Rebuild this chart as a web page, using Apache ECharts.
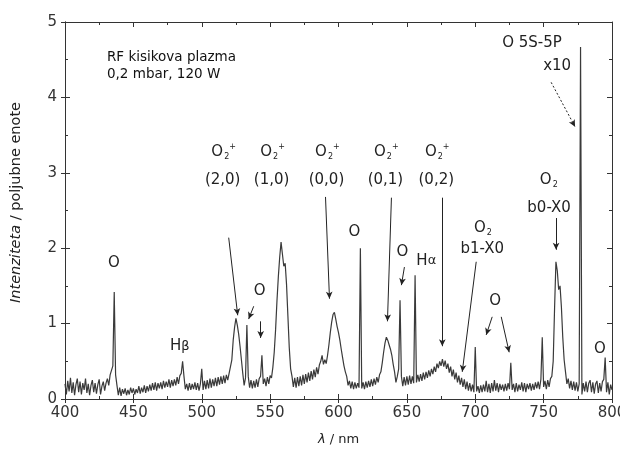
<!DOCTYPE html>
<html>
<head>
<meta charset="utf-8">
<script src="https://cdn.jsdelivr.net/npm/echarts@6/dist/echarts.min.js"></script>
<style>html,body{margin:0;padding:0;background:#fff}#c{width:620px;height:455px}</style>
</head>
<body>
<div id="c"></div>
<script>
// ---- data ----
const wavelength = [
400,401,402,403,404,405,406,407,408,409,410,411,412,413,414,415,416,417,418,419,
420,421,422,423,424,425,426,427,428,429,430,431,432,433,434,435,436,437,438,439,
440,441,442,443,444,445,446,447,448,449,450,451,452,453,454,455,456,457,458,459,
460,461,462,463,464,465,466,467,468,469,470,471,472,473,474,475,476,477,478,479,
480,481,482,483,484,485,486,487,488,489,490,491,492,493,494,495,496,497,498,499,
500,501,502,503,504,505,506,507,508,509,510,511,512,513,514,515,516,517,518,519,
520,521,522,523,524,525,526,527,528,529,530,531,532,533,534,535,536,537,538,539,
540,541,542,543,544,545,546,547,548,549,550,551,552,553,554,555,556,557,558,559,
560,561,562,563,564,565,566,567,568,569,570,571,572,573,574,575,576,577,578,579,
580,581,582,583,584,585,586,587,588,589,590,591,592,593,594,595,596,597,598,599,
600,601,602,603,604,605,606,607,608,609,610,611,612,613,614,615,616,617,618,619,
620,621,622,623,624,625,626,627,628,629,630,631,632,633,634,635,636,637,638,639,
640,641,642,643,644,645,646,647,648,649,650,651,652,653,654,655,656,657,658,659,
660,661,662,663,664,665,666,667,668,669,670,671,672,673,674,675,676,677,678,679,
680,681,682,683,684,685,686,687,688,689,690,691,692,693,694,695,696,697,698,699,
700,701,702,703,704,705,706,707,708,709,710,711,712,713,714,715,716,717,718,719,
720,721,722,723,724,725,726,727,728,729,730,731,732,733,734,735,736,737,738,739,
740,741,742,743,744,745,746,747,748,749,750,751,752,753,754,755,756,757,758,759,
760,761,762,763,764,765,766,767,768,769,770,771,772,773,774,775,776,777,778,779,
780,781,782,783,784,785,786,787,788,789,790,791,792,793,794,795,796,797,798,799,
800];
const intensity = [
0.20,0.06,0.24,0.10,0.28,0.08,0.22,0.05,0.19,0.27,
0.09,0.23,0.06,0.21,0.12,0.27,0.08,0.20,0.05,0.18,
0.25,0.09,0.21,0.07,0.19,0.26,0.06,0.17,0.23,0.11,
0.21,0.27,0.18,0.32,0.30,0.44,1.42,0.32,0.18,0.05,
0.15,0.04,0.13,0.07,0.14,0.05,0.12,0.06,0.15,0.08,
0.14,0.06,0.13,0.08,0.17,0.07,0.15,0.09,0.18,0.08,
0.17,0.10,0.19,0.11,0.21,0.12,0.22,0.11,0.21,0.14,
0.22,0.13,0.24,0.15,0.23,0.16,0.26,0.15,0.25,0.17,
0.26,0.18,0.29,0.20,0.31,0.34,0.50,0.30,0.13,0.20,
0.11,0.21,0.12,0.20,0.13,0.22,0.12,0.21,0.11,0.20,
0.40,0.12,0.24,0.13,0.25,0.14,0.27,0.15,0.26,0.17,
0.28,0.17,0.29,0.19,0.30,0.20,0.31,0.21,0.32,0.25,
0.34,0.33,0.52,0.78,0.95,1.07,0.98,0.86,0.70,0.52,
0.34,0.18,0.28,0.98,0.30,0.15,0.25,0.14,0.24,0.15,
0.26,0.16,0.27,0.30,0.58,0.20,0.27,0.17,0.29,0.20,
0.31,0.28,0.42,0.62,0.92,1.30,1.62,1.88,2.08,1.92,
1.76,1.80,1.52,1.10,0.68,0.40,0.30,0.16,0.28,0.15,
0.29,0.17,0.30,0.18,0.32,0.20,0.33,0.22,0.35,0.24,
0.37,0.26,0.39,0.29,0.42,0.33,0.45,0.50,0.58,0.46,
0.52,0.47,0.58,0.72,0.88,1.02,1.12,1.15,1.06,0.96,
0.88,0.78,0.66,0.55,0.44,0.36,0.30,0.18,0.24,0.14,
0.23,0.13,0.22,0.14,0.21,0.15,2.00,0.14,0.22,0.13,
0.23,0.15,0.24,0.16,0.26,0.17,0.27,0.19,0.29,0.22,
0.32,0.36,0.48,0.62,0.74,0.82,0.78,0.72,0.66,0.58,
0.46,0.36,0.22,0.30,0.40,1.31,0.30,0.17,0.29,0.18,
0.30,0.19,0.31,0.20,0.30,0.21,1.64,0.22,0.32,0.23,
0.33,0.24,0.35,0.26,0.36,0.28,0.38,0.30,0.40,0.33,
0.43,0.36,0.47,0.41,0.50,0.44,0.53,0.43,0.51,0.40,
0.47,0.35,0.43,0.30,0.39,0.26,0.35,0.22,0.31,0.19,
0.28,0.16,0.26,0.13,0.23,0.11,0.21,0.10,0.19,0.09,
0.69,0.10,0.17,0.08,0.18,0.09,0.19,0.10,0.24,0.09,
0.20,0.08,0.21,0.10,0.25,0.11,0.21,0.09,0.20,0.12,
0.19,0.10,0.20,0.11,0.21,0.13,0.48,0.12,0.20,0.09,
0.21,0.10,0.19,0.12,0.22,0.10,0.21,0.09,0.20,0.13,
0.21,0.11,0.20,0.12,0.22,0.14,0.23,0.13,0.26,0.82,
0.16,0.24,0.13,0.25,0.16,0.27,0.30,0.50,1.20,1.82,
1.70,1.45,1.50,1.22,0.82,0.52,0.36,0.20,0.27,0.14,
0.24,0.12,0.23,0.11,0.22,0.10,0.20,4.67,0.06,0.21,
0.10,0.23,0.09,0.21,0.25,0.09,0.22,0.07,0.20,0.24,
0.08,0.21,0.10,0.23,0.26,0.55,0.09,0.22,0.06,0.19,
0.12];

const xTicks = {min: 400, max: 800, interval: 50};
const yTicks = {min: 0, max: 5, interval: 1};

// annotation texts: [text(rich), wavelength, intensity]
const annotationTexts = [
  ['O', 435.8, 1.80],
  ['H{g|β}', 483.9, 0.70],
  ['{o|O}{sub|2}{sup|+}', 516.0, 3.28], ['(2,0)', 515.3, 2.90],
  ['{o|O}{sub|2}{sup|+}', 551.8, 3.28], ['(1,0)', 551.1, 2.90],
  ['{o|O}{sub|2}{sup|+}', 591.9, 3.28], ['(0,0)', 591.2, 2.90],
  ['{o|O}{sub|2}{sup|+}', 635.0, 3.28], ['(0,1)', 634.3, 2.90],
  ['{o|O}{sub|2}{sup|+}', 672.2, 3.28], ['(0,2)', 671.5, 2.90],
  ['O', 611.7, 2.21],
  ['O', 542.3, 1.43],
  ['O', 646.7, 1.95],
  ['H{g|α}', 664.2, 1.83],
  ['{o|O}{sub|2}', 705.6, 2.27], ['b1-X0', 705.1, 1.99],
  ['O', 714.6, 1.30],
  ['{o|O}{sub|2}', 753.8, 2.90], ['b0-X0', 754.0, 2.53],
  ['O 5S-5P', 741.5, 4.72], ['x10', 759.9, 4.42],
  ['O', 791.2, 0.66]
];
const conditionsText = ['RF kisikova plazma', '0,2 mbar, 120 W'];
const conditionsAt = [430.7, 4.42];

// arrows: [fromλ, fromI, toλ, toI]
const arrows = [
  [519.7, 2.14, 526.3, 1.11],
  [538.0, 1.23, 534.3, 1.06],
  [543.1, 1.03, 543.1, 0.81],
  [590.5, 2.68, 593.4, 1.33],
  [638.7, 2.67, 635.8, 1.03],
  [648.2, 1.75, 646.0, 1.51],
  [675.9, 2.67, 675.9, 0.70],
  [700.7, 1.82, 690.5, 0.36],
  [712.4, 1.09, 708.0, 0.85],
  [719.0, 1.09, 724.8, 0.62],
  [759.1, 2.40, 759.1, 1.98]
];
const dottedArrows = [
  [755.5, 4.20, 773.0, 3.61]
];

// ---- chart ----
const FONT = '"DejaVu Sans", Verdana, sans-serif';
const TXT = '#222';
const chart = echarts.init(document.getElementById('c'), null, {renderer: 'canvas'});
const seriesData = wavelength.map((w, i) => [w, intensity[i]]);
const richStyles = {
  o: {fontSize: 15, fontFamily: FONT, color: TXT},
  sub: {fontSize: 8, fontFamily: FONT, color: TXT, padding: [10, 0, 0, 1]},
  sup: {fontSize: 8, fontFamily: FONT, color: TXT, padding: [0, 0, 9, 0]},
  g: {fontSize: 13, fontFamily: FONT, color: TXT}
};
const markPoints = annotationTexts.map(([t, x, y]) => ({
  coord: [x, y],
  symbol: 'circle', symbolSize: 0,
  label: {show: true, formatter: t, position: 'inside', align: 'center', verticalAlign: 'middle',
          fontSize: 15, fontFamily: FONT, color: TXT, rich: richStyles}
}));
markPoints.push({
  coord: conditionsAt, symbol: 'circle', symbolSize: 0,
  label: {show: true, formatter: conditionsText.join('\n'), position: 'inside', align: 'left',
          verticalAlign: 'middle', lineHeight: 17, fontSize: 13.5, fontFamily: FONT, color: '#111'}
});
const markLines = arrows.map(([x1, y1, x2, y2]) => [{coord: [x1, y1]}, {coord: [x2, y2]}])
  .concat(dottedArrows.map(([x1, y1, x2, y2]) => [
    {coord: [x1, y1], lineStyle: {type: [2, 2]}}, {coord: [x2, y2]}]));

const axisLine = {show: true, onZero: false, lineStyle: {color: '#333', width: 1}};
const axisBase = {
  type: 'value', splitLine: {show: false}, axisLine: axisLine,
  minorTick: {show: true, splitNumber: 2, length: 3, lineStyle: {color: '#333'}},
  axisTick: {show: true, inside: true, length: 5, lineStyle: {color: '#333'}}
};
const labelStyle = {fontSize: 15, fontFamily: FONT, color: '#333'};

chart.setOption({
  animation: false,
  grid: {left: 65, right: 8, top: 22, bottom: 56, containLabel: false, outerBoundsMode: 'none'},
  xAxis: [
    Object.assign({}, axisBase, xTicks, {
      position: 'bottom',
      axisLabel: Object.assign({margin: 7}, labelStyle),
      name: '{i|λ} / nm', nameLocation: 'middle', nameGap: 34,
      nameTextStyle: {fontSize: 13, fontFamily: FONT, color: TXT,
        rich: {i: {fontStyle: 'italic', fontSize: 13, fontFamily: FONT, color: TXT}}}
    }),
    Object.assign({}, axisBase, xTicks, {position: 'top', axisLabel: {show: false}}),
    Object.assign({}, axisBase, xTicks, {position: 'bottom', axisLabel: {show: false},
      axisTick: {show: true, inside: false, length: 4, lineStyle: {color: '#333'}},
      minorTick: {show: false}})
  ],
  yAxis: [
    Object.assign({}, axisBase, yTicks, {
      position: 'left',
      axisLabel: Object.assign({margin: 8}, labelStyle),
      name: '{i|Intenziteta} / poljubne enote', nameLocation: 'middle', nameGap: 41,
      nameTextStyle: {fontSize: 14.5, fontFamily: FONT, color: TXT, padding: [0, 0, 0, 16],
        rich: {i: {fontStyle: 'italic', fontSize: 14.5, fontFamily: FONT, color: TXT}}}
    }),
    Object.assign({}, axisBase, yTicks, {position: 'right', axisLabel: {show: false}}),
    Object.assign({}, axisBase, yTicks, {position: 'left', axisLabel: {show: false},
      axisTick: {show: true, inside: false, length: 4, lineStyle: {color: '#333'}},
      minorTick: {show: false}})
  ],
  series: [{
    type: 'line', xAxisIndex: 0, yAxisIndex: 0,
    data: seriesData, showSymbol: false, symbol: 'none',
    lineStyle: {color: '#3a3a3a', width: 1.2}, silent: true,
    markPoint: {silent: true, data: markPoints},
    markLine: {silent: true, symbol: ['none', 'arrow'], symbolSize: [5, 7],
      lineStyle: {color: '#222', width: 1, type: 'solid'}, label: {show: false},
      emphasis: {disabled: true}, data: markLines}
  }]
});
</script>
</body>
</html>
